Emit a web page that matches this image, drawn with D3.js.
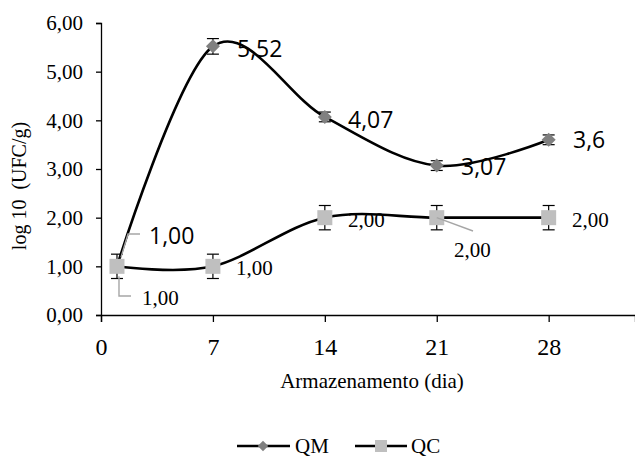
<!DOCTYPE html>
<html><head><meta charset="utf-8">
<script src="https://cdn.jsdelivr.net/npm/d3@7"></script>
<style>body{margin:0;background:#fff}svg{display:block}</style>
</head><body>
<svg id="c" width="635" height="457"></svg>
<script>
const days = [1, 7, 14, 21, 28];
const qm = [1.00, 5.52, 4.07, 3.07, 3.6];
const qmErr = [0.12, 0.16, 0.1, 0.1, 0.1];
const qmLabels = ["1,00", "5,52", "4,07", "3,07", "3,6"];
const qc = [1.00, 1.00, 2.00, 2.00, 2.00];
const qcErr = [0.25, 0.25, 0.25, 0.25, 0.25];
const qcLabels = ["1,00", "1,00", "2,00", "2,00", "2,00"];
const xTicks = [0, 7, 14, 21, 28];
const yTicks = [0, 1, 2, 3, 4, 5, 6];

const svg = d3.select("#c");
const x = d3.scaleLinear().domain([0, 33.4]).range([101, 635]);
const y = d3.scaleLinear().domain([0, 6]).range([315, 23]);
const fmt = v => d3.format(".2f")(v).replace(".", ",");
const serif = "'Liberation Serif', 'Times New Roman', serif";
const sans = "'Open Sans', 'Liberation Sans', sans-serif";

// axes
const yAx = svg.append("g").attr("transform", "translate(101,0)")
  .call(d3.axisLeft(y).tickValues(yTicks).tickFormat(fmt).tickSizeOuter(0).tickSize(5).tickPadding(13));
yAx.selectAll("text").attr("font-family", serif).attr("font-size", 21).attr("fill", "#000");
yAx.select(".domain").attr("stroke", "#000").attr("stroke-width", 1.3);
yAx.selectAll(".tick line").attr("stroke", "#000").attr("stroke-width", 1.3);

const xAx = svg.append("g").attr("transform", "translate(0,315)")
  .call(d3.axisBottom(x).tickValues(xTicks).tickFormat(d => d).tickSizeOuter(0).tickSize(7).tickPadding(16));
xAx.selectAll("text").attr("font-family", serif).attr("font-size", 24).attr("fill", "#000");
xAx.select(".domain").attr("stroke", "#000").attr("stroke-width", 1.3);
xAx.selectAll(".tick line").attr("stroke", "#000").attr("stroke-width", 1.3);

svg.append("text").attr("x", 372).attr("y", 388).attr("text-anchor", "middle")
  .attr("font-family", serif).attr("font-size", 21).text("Armazenamento (dia)");
svg.append("text").attr("transform", "translate(26,186) rotate(-90)").attr("text-anchor", "middle")
  .attr("font-family", serif).attr("font-size", 20).style("white-space", "pre").text("log 10  (UFC/g)");

const line = d3.line().x((d, i) => x(days[i])).y(d => y(d)).curve(d3.curveCardinal.tension(0));

function errBars(vals, errs) {
  const g = svg.append("g");
  vals.forEach((v, i) => {
    const cx = x(days[i]), t = y(v + errs[i]), b = y(v - errs[i]);
    g.append("line").attr("x1", cx).attr("x2", cx).attr("y1", t).attr("y2", b).attr("stroke", "#000").attr("stroke-width", 1.2);
    [t, b].forEach(yy => g.append("line").attr("x1", cx - 6).attr("x2", cx + 6).attr("y1", yy).attr("y2", yy).attr("stroke", "#000").attr("stroke-width", 1.2));
  });
}

// QM series (drawn under QC markers)
svg.append("path").datum(qm).attr("d", line).attr("fill", "none").attr("stroke", "#000").attr("stroke-width", 2.6);
errBars(qm, qmErr);
svg.append("g").selectAll("path").data(qm).join("path")
  .attr("transform", (d, i) => `translate(${x(days[i])},${y(d)})`)
  .attr("d", d3.symbol(d3.symbolDiamond2, 125)).attr("fill", "#808080");
// QC series
svg.append("path").datum(qc).attr("d", line).attr("fill", "none").attr("stroke", "#000").attr("stroke-width", 2.6);
errBars(qc, qcErr);
svg.append("g").selectAll("rect").data(qc).join("rect")
  .attr("x", (d, i) => x(days[i]) - 7.5).attr("y", d => y(d) - 7.5).attr("width", 15).attr("height", 15).attr("fill", "#BFBFBF");

// leader lines
const lead = [
  [[x(days[0]) + 4, y(qm[0]) - 9], [128, 234], [140, 234]],
  [[x(days[0]) + 2, y(qc[0]) + 10], [119, 296], [131, 296]],
  [[x(days[3]), y(qc[3])], [473, 231]]
];
lead.forEach(p => svg.append("path").attr("d", d3.line()(p)).attr("fill", "none").attr("stroke", "#A6A6A6").attr("stroke-width", 1.4));

// QM labels (sans)
const qmPos = [[149, 244], [237, 57], [348, 128], [461, 175], [573, 148]];
qmLabels.forEach((t, i) => svg.append("text").attr("x", qmPos[i][0]).attr("y", qmPos[i][1])
  .attr("font-family", sans).attr("font-size", 23).attr("fill", "#000").text(t));
// QC labels (serif)
const qcPos = [[142, 305], [236, 275], [348, 227], [454, 257], [572, 227]];
qcLabels.forEach((t, i) => svg.append("text").attr("x", qcPos[i][0]).attr("y", qcPos[i][1])
  .attr("font-family", serif).attr("font-size", 21).attr("fill", "#000").text(t));

// legend
const lg = svg.append("g");
lg.append("line").attr("x1", 237).attr("x2", 290).attr("y1", 446).attr("y2", 446).attr("stroke", "#000").attr("stroke-width", 2.6);
lg.append("path").attr("transform", "translate(263,446)").attr("d", d3.symbol(d3.symbolDiamond2, 70)).attr("fill", "#808080");
lg.append("text").attr("x", 295).attr("y", 453).attr("font-family", serif).attr("font-size", 21).text("QM");
lg.append("line").attr("x1", 355).attr("x2", 407).attr("y1", 446).attr("y2", 446).attr("stroke", "#000").attr("stroke-width", 2.6);
lg.append("rect").attr("x", 375).attr("y", 440).attr("width", 12).attr("height", 12).attr("fill", "#BFBFBF");
lg.append("text").attr("x", 411).attr("y", 453).attr("font-family", serif).attr("font-size", 21).text("QC");
</script>
</body></html>
